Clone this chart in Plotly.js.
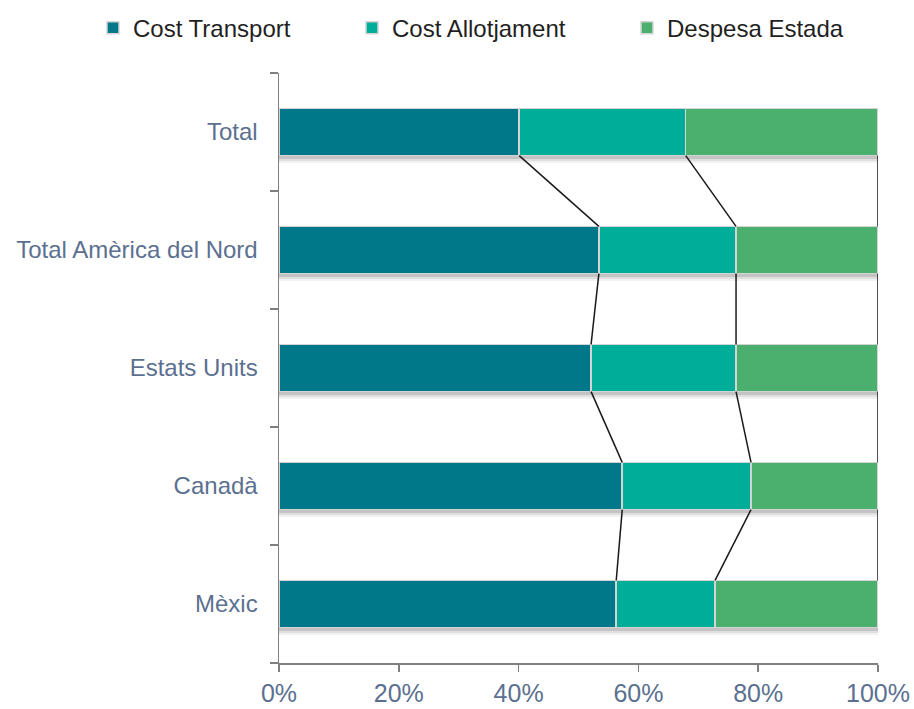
<!DOCTYPE html>
<html>
<head>
<meta charset="utf-8">
<script src="https://cdn.plot.ly/plotly-3.0.1.min.js"></script>
<style>html,body{margin:0;padding:0;background:#fff;}#chart{width:914px;height:709px;}</style>
</head>
<body>
<div id="chart"></div>
<script>
const categories = ['Total', 'Total Amèrica del Nord', 'Estats Units', 'Canadà', 'Mèxic'];
const costTransport = [40.1, 53.4, 52.1, 57.3, 56.3];
const costAllotjament = [27.8, 22.9, 24.2, 21.5, 16.5];
const despesaEstada = [32.1, 23.7, 23.7, 21.2, 27.2];
const seriesNames = ['Cost Transport', 'Cost Allotjament', 'Despesa Estada'];
const seriesColors = ['#00788A', '#00AD98', '#4BAF6E'];
const xTickVals = [0, 20, 40, 60, 80, 100];
const xTickText = ['0%', '20%', '40%', '60%', '80%', '100%'];

const pos = categories.map((_, i) => i);
const barWidth = 0.4;
const seriesData = [costTransport, costAllotjament, despesaEstada];
const legendIds = ['legend', 'legend2', 'legend3'];

const traces = [];

// soft shadow under each bar (drawn on base axis, below the bars)
const totals = categories.map((_, i) => seriesData.reduce((s, v) => s + v[i], 0));
[[0.065, 'rgba(0,0,0,0.05)'], [0.045, 'rgba(0,0,0,0.08)'], [0.025, 'rgba(0,0,0,0.12)']].forEach(([off, col]) => {
  traces.push({
    type: 'bar', orientation: 'h', x: totals, y: pos.map(p => p + off),
    width: barWidth, marker: {color: col, line: {width: 0}},
    showlegend: false, hoverinfo: 'skip', xaxis: 'x', yaxis: 'y', offsetgroup: 'shadow' + off
  });
});

seriesData.forEach((vals, k) => traces.push({
  type: 'bar',
  orientation: 'h',
  name: seriesNames[k],
  x: vals,
  y: pos,
  width: barWidth,
  yaxis: 'y2',
  legend: legendIds[k],
  marker: {color: seriesColors[k], line: {color: '#D4D4D4', width: 1.5}},
  hoverinfo: 'skip'
}));

// series lines (connectors between bars at each cumulative boundary)
const lx = [], ly = [];
let cum = categories.map(() => 0);
seriesData.forEach(vals => {
  cum = cum.map((c, i) => c + vals[i]);
  for (let i = 0; i < categories.length - 1; i++) {
    lx.push(cum[i], cum[i + 1], null);
    ly.push(i + barWidth / 2, i + 1 - barWidth / 2, null);
  }
});
traces.push({
  type: 'scatter', mode: 'lines', x: lx, y: ly, yaxis: 'y2',
  line: {color: '#1A1A1A', width: 1.5},
  showlegend: false, hoverinfo: 'skip', cliponaxis: false
});

const boundaries = [];
for (let i = 0; i <= categories.length; i++) boundaries.push(i - 0.5);

const legendTextStart = [133, 392, 667];
const plotLeft = 279, plotW = 599;
function legendCfg(px) {
  return {
    orientation: 'h', xanchor: 'left', x: (px - 40 - plotLeft) / plotW,
    y: 1.076, yanchor: 'middle', bgcolor: 'rgba(0,0,0,0)',
    font: {size: 24, color: '#1F1F1F'}, itemwidth: 30
  };
}

const layout = {
  width: 914, height: 709,
  margin: {l: 279, r: 36, t: 73, b: 46, pad: 0, autoexpand: false},
  paper_bgcolor: '#fff', plot_bgcolor: '#fff',
  barmode: 'stack',
  hovermode: false,
  font: {family: 'Liberation Sans, Arial, sans-serif'},
  showlegend: true,
  legend: legendCfg(legendTextStart[0]),
  legend2: legendCfg(legendTextStart[1]),
  legend3: legendCfg(legendTextStart[2]),
  xaxis: {
    range: [0, 100], tickvals: xTickVals, ticktext: xTickText,
    showgrid: false, zeroline: false, showline: true, linecolor: '#808080', linewidth: 1.5,
    ticks: 'outside', ticklen: 7, tickcolor: '#808080', tickwidth: 1.5,
    tickfont: {size: 25, color: '#5B7090'}, fixedrange: true
  },
  yaxis: {
    range: [4.5, -0.5], tickvals: pos, ticktext: categories,
    showgrid: false, zeroline: false, showline: true, linecolor: '#808080', linewidth: 1.5,
    ticks: '', tickfont: {size: 24, color: '#5B7090'}, ticklabelstandoff: 15,
    minor: {tickmode: 'array', tickvals: boundaries, ticks: 'outside', ticklen: 8, tickcolor: '#808080', tickwidth: 1.5, showgrid: false},
    fixedrange: true
  },
  yaxis2: {
    overlaying: 'y', range: [4.5, -0.5], visible: false, showgrid: false, zeroline: false, fixedrange: true
  }
};

Plotly.newPlot('chart', traces, layout, {displayModeBar: false, staticPlot: true});
</script>
</body>
</html>
